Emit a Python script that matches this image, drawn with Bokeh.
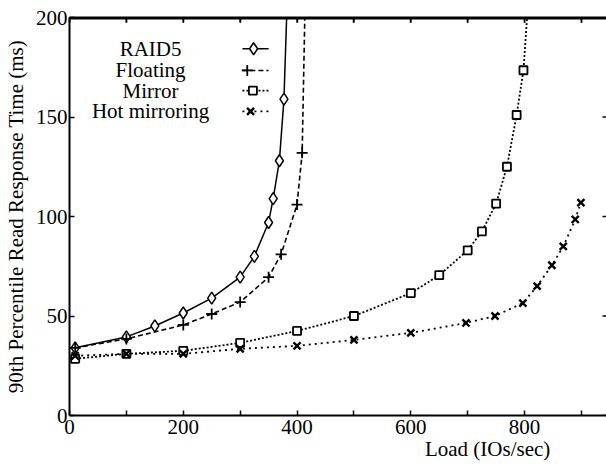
from bokeh.plotting import figure
from bokeh.models import Range1d, LinearAxis, FixedTicker, Label
from bokeh.embed import file_html
from bokeh.resources import INLINE

# ---- data ----
raid5_x = [10, 100, 150, 200, 250, 300, 325, 350, 358, 369, 377, 384]
raid5_y = [34, 39.5, 45, 51.5, 59, 69.5, 80, 97, 109, 128, 159, 220]

floating_x = [10, 100, 200, 250, 300, 350, 372, 400, 409, 415]
floating_y = [34, 38.5, 45.5, 51, 57, 69.5, 81, 106, 132, 220]

mirror_x = [10, 100, 200, 300, 400, 500, 600, 650, 700, 725, 750, 769, 786, 798, 808]
mirror_y = [28.5, 31, 32.5, 36.5, 42.5, 50, 61.5, 70.5, 83, 92.5, 106.5, 125, 151, 173.5, 215]

hot_x = [10, 100, 200, 300, 400, 500, 600, 697, 748, 797, 822, 848, 868, 889, 899]
hot_y = [30, 31, 31, 33.5, 35, 38, 41.5, 46.5, 50, 56.5, 65, 75.5, 85, 98.5, 107]

series_names = ["RAID5", "Floating", "Mirror", "Hot mirroring"]
x_ticks = [0, 100, 200, 300, 400, 500, 600, 700, 800, 900]
x_labels = {0: "0", 100: "", 200: "200", 300: "", 400: "400", 500: "",
            600: "600", 700: "", 800: "800", 900: ""}
y_ticks = [0, 50, 100, 150, 200]

FONT = "Liberation Serif"
X_END = 944
Y_END = 200

p = figure(width=606, height=468, output_backend="svg", toolbar_location=None,
           x_range=Range1d(0, X_END), y_range=Range1d(0, Y_END),
           min_border_left=69, min_border_right=0, min_border_top=17,
           min_border_bottom=53)
p.outline_line_color = None
p.xgrid.grid_line_color = None
p.ygrid.grid_line_color = None

tick_style = dict(major_tick_in=5, major_tick_out=0, minor_tick_in=0, minor_tick_out=0,
                  major_tick_line_width=1.5, major_tick_line_color="black",
                  axis_line_width=2, axis_line_color="black")

xa = p.xaxis[0]
xa.update(ticker=FixedTicker(ticks=x_ticks), major_label_overrides=x_labels,
          major_label_text_font=FONT, major_label_text_font_size="21px",
          major_label_text_color="black", major_label_standoff=4, **tick_style)
# title sits right of centre in the reference: pad with no-break spaces
xa.axis_label = "\u00a0" * 57 + "Load (IOs/sec)"
xa.axis_label_text_font = FONT
xa.axis_label_text_font_size = "21px"
xa.axis_label_text_font_style = "normal"
xa.axis_label_text_color = "black"
xa.axis_label_standoff = 0

ya = p.yaxis[0]
ya.update(ticker=FixedTicker(ticks=y_ticks), major_label_text_font=FONT,
          major_label_text_font_size="21px", major_label_text_color="black",
          major_label_standoff=2, **tick_style)
ya.axis_label = "90th Percentile Read Response Time (ms)"
ya.axis_label_text_font = FONT
ya.axis_label_text_font_size = "21px"
ya.axis_label_text_font_style = "normal"
ya.axis_label_text_color = "black"
ya.axis_label_standoff = 5

top = LinearAxis(ticker=FixedTicker(ticks=x_ticks),
                 major_label_overrides={t: "" for t in x_ticks},
                 major_label_text_font_size="1px", major_label_standoff=0,
                 **tick_style)
p.add_layout(top, "above")

# top border line and inward ticks (also drawn as glyphs)
p.segment(x0=[0], y0=[Y_END], x1=[X_END], y1=[Y_END],
          line_color="black", line_width=4)
p.segment(x0=x_ticks, y0=[Y_END] * len(x_ticks),
          x1=x_ticks, y1=[Y_END - 2.6] * len(x_ticks),
          line_color="black", line_width=1.5)

# inward ticks on the (cut-off) right edge
p.segment(x0=[X_END - 7] * len(y_ticks), y0=y_ticks,
          x1=[X_END] * len(y_ticks), y1=y_ticks,
          line_color="black", line_width=1.5)

# ---- series ----
p.line(raid5_x, raid5_y, line_color="black", line_width=1.5)
p.scatter(raid5_x, raid5_y, marker="diamond", size=12, fill_color="white",
          line_color="black", line_width=1.5)

p.line(floating_x, floating_y, line_color="black", line_width=1.6, line_dash="5 3")
p.scatter(floating_x, floating_y, marker="cross", size=11,
          line_color="black", line_width=1.8)

p.line(mirror_x, mirror_y, line_color="black", line_width=1.8, line_dash="2 2")
p.scatter(mirror_x, mirror_y, marker="square", size=8, fill_color="white",
          line_color="black", line_width=1.8)

p.line(hot_x, hot_y, line_color="black", line_width=1.8, line_dash="2 4")
p.scatter(hot_x, hot_y, marker="x", size=10, line_color="black", line_width=2.4)

# ---- legend (text left, centred; sample on the right) ----
leg_y = [184.3, 173.4, 163.3, 152.8]
for name, ly in zip(series_names, leg_y):
    p.add_layout(Label(x=142.5, y=ly, text=name, text_align="center",
                       text_baseline="middle", text_font=FONT,
                       text_font_size="21px", text_color="black"))

p.line([304, 350], [leg_y[0]] * 2, line_color="black", line_width=1.5)
p.scatter([323.6], [leg_y[0]], marker="diamond", size=12, fill_color="white",
          line_color="black", line_width=1.5)

p.line([304, 350], [leg_y[1]] * 2, line_color="black", line_width=1.6, line_dash="5 3")
p.scatter([312.5], [leg_y[1]], marker="cross", size=11, line_color="black",
          line_width=1.8)

p.line([304, 350], [leg_y[2]] * 2, line_color="black", line_width=1.8, line_dash="2 2")
p.scatter([322.4], [leg_y[2]], marker="square", size=8, fill_color="white",
          line_color="black", line_width=1.8)

p.line([304, 350], [leg_y[3]] * 2, line_color="black", line_width=1.8, line_dash="2 4")
p.scatter([318.3], [leg_y[3]], marker="x", size=10, line_color="black",
          line_width=2.4)

open("out.html", "w").write(file_html(p, INLINE))
